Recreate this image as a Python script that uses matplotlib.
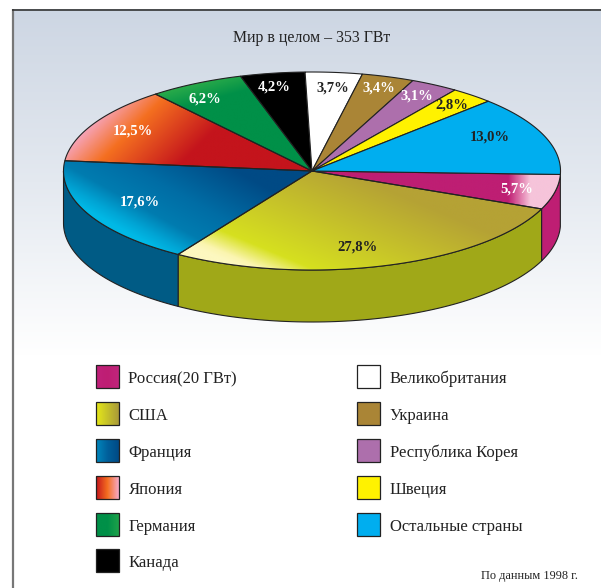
import matplotlib
matplotlib.use("Agg")
import matplotlib.pyplot as plt
import numpy as np
from matplotlib.colors import LinearSegmentedColormap
from matplotlib.patches import Polygon, Rectangle

# data
countries = ["Россия(20 ГВт)", "США", "Франция", "Япония", "Германия", "Канада",
             "Великобритания", "Украина", "Республика Корея", "Швеция", "Остальные страны"]
shares = [5.7, 27.8, 17.6, 12.5, 6.2, 4.2, 3.7, 3.4, 3.1, 2.8, 13.0]
title = "Мир в целом – 353 ГВт"
note = "По данным 1998 г."

# colours
wall_colors = ["#be1e73", "#a0a818", "#005b85"]
flat_colors = {5: "#000000", 6: "#ffffff", 7: "#aa8536", 8: "#ad6fac", 9: "#fff200", 10: "#00aeef"}
label_colors = ["white", "#222222", "white", "white", "white", "white",
                "#222222", "white", "white", "#222222", "#222222"]
# gradient: start point, end point, stops (pixels)
gradients = {
    0: ((508, 190), (530, 190), [(0, "#be1e73"), (0.5, "#dd6fa5"), (1, "#f6c4da")]),
    1: ((217, 257), (267, 138), [(0, "#fdf8c0"), (0.05, "#fbf5b0"), (0.2, "#d6e01f"), (1, "#b5a235")]),
    2: ((130, 235), (182, 141), [(0, "#00b9e6"), (0.1, "#00a5d5"), (0.27, "#007cb0"),
                                 (0.55, "#006da5"), (1, "#004a85")]),
    3: ((93, 117), (160, 184), [(0, "#f6a9c8"), (0.38, "#f46f20"), (1, "#c4141c")]),
    4: ((190, 82), (196, 104), [(0, "#2fae4a"), (1, "#009048")]),
}
swatch_stops = {
    0: ["#c0207a", "#be1e73", "#c0257c"],
    1: ["#e6e818", "#c6c22a", "#aa9a38"],
    2: ["#0088bd", "#00609c", "#004a85"],
    3: ["#c4141c", "#f46f20", "#f6a9c8"],
    4: ["#009048", "#009048", "#1da24a"],
}

# layout in pixels of the 601x588 picture
W, H = 601, 588
cx, cy, rx, ry, depth = 312, 171, 248.5, 99, 52
start_angle = 2.0
label_xy = [(517, 189), (358, 247), (140, 202), (133, 131), (205, 99), (274, 87),
            (333, 88), (379, 88), (417, 96), (452, 105), (490, 137)]

plt.rcParams["font.family"] = ["Liberation Serif", "DejaVu Serif"]

fig = plt.figure(figsize=(W / 100, H / 100), dpi=100, facecolor="white")
ax = fig.add_axes([0, 0, 1, 1])
ax.set_xlim(0, W)
ax.set_ylim(H, 0)
ax.set_axis_off()


def ell(t, dy=0):
    t = np.radians(t)
    return np.column_stack([cx + rx * np.cos(t), cy + ry * np.sin(t) + dy])


def grad_fill(poly, p0, p1, stops, z):
    xmin, ymin = poly.min(axis=0) - 2
    xmax, ymax = poly.max(axis=0) + 2
    xs, ys = np.meshgrid(np.linspace(xmin, xmax, 300), np.linspace(ymin, ymax, 300))
    d = np.array(p1, float) - p0
    v = ((xs - p0[0]) * d[0] + (ys - p0[1]) * d[1]) / (d @ d)
    cmap = LinearSegmentedColormap.from_list("g", stops)
    im = ax.imshow(v, cmap=cmap, vmin=0, vmax=1, extent=(xmin, xmax, ymax, ymin),
                   aspect="auto", interpolation="bilinear", zorder=z)
    im.set_clip_path(Polygon(poly, transform=ax.transData))


# background panel
bg = LinearSegmentedColormap.from_list("bg", ["#cdd6e3", "#e4e9f0", "#ffffff"])
ax.imshow(np.linspace(0, 1, 256)[:, None], cmap=bg, extent=(13, W, 356, 9), aspect="auto", zorder=0)
ax.set_xlim(0, W)
ax.set_ylim(H, 0)
ax.plot([13, 13], [9, H], color="#777777", lw=1.6, zorder=1, solid_capstyle="butt")
ax.plot([12, W], [9.5, 9.5], color="#333333", lw=1.2, zorder=1, solid_capstyle="butt")

# slice angles
fracs = np.array(shares) / sum(shares)
edges = start_angle + np.concatenate([[0], np.cumsum(fracs)]) * 360

# side wall
for i in range(3):
    t = np.linspace(edges[i], min(edges[i + 1], 180), 80)
    wall = np.vstack([ell(t), ell(t[::-1], depth)])
    ax.add_patch(Polygon(wall, closed=True, fc=wall_colors[i], ec="#222222", lw=0.8, zorder=2))

# top slices
for i, share in enumerate(shares):
    t = np.linspace(edges[i], edges[i + 1], 120)
    poly = np.vstack([[cx, cy], ell(t)])
    if i in gradients:
        p0, p1, stops = gradients[i]
        grad_fill(poly, p0, p1, stops, 3)
        ax.add_patch(Polygon(poly, closed=True, fc="none", ec="#222222", lw=0.8, zorder=4))
    else:
        ax.add_patch(Polygon(poly, closed=True, fc=flat_colors[i], ec="#222222", lw=0.8, zorder=4))

# value labels
for share, (x, y), c in zip(shares, label_xy, label_colors):
    ax.text(x, y, f"{share:.1f}%".replace(".", ","), color=c, fontsize=10.5, fontweight="bold",
            ha="center", va="center", zorder=5)

ax.text(312, 38, title, fontsize=11.4, color="#222222", ha="center", va="center", zorder=5)

# legend
col_x = [96, 357]
row_y = [365, 402, 439, 476, 513, 549]
for i, name in enumerate(countries):
    col = 0 if i < 6 else 1
    y = row_y[i if i < 6 else i - 6]
    x = col_x[col]
    if i in swatch_stops:
        cmap = LinearSegmentedColormap.from_list("s", swatch_stops[i])
        ax.imshow(np.linspace(0, 1, 64)[None, :], cmap=cmap, extent=(x, x + 23, y + 23, y),
                  aspect="auto", zorder=3)
        ax.add_patch(Rectangle((x, y), 23, 23, fc="none", ec="#222222", lw=0.9, zorder=4))
    else:
        ax.add_patch(Rectangle((x, y), 23, 23, fc=flat_colors[i], ec="#222222", lw=0.9, zorder=4))
    ax.text(x + 32.5, y + 14, name, fontsize=12, color="#222222", ha="left", va="center", zorder=5)

ax.text(578, 576, note, fontsize=8.8, color="#222222", ha="right", va="center", zorder=5)

ax.set_xlim(0, W)
ax.set_ylim(H, 0)
fig.savefig("out.png", dpi=100)
